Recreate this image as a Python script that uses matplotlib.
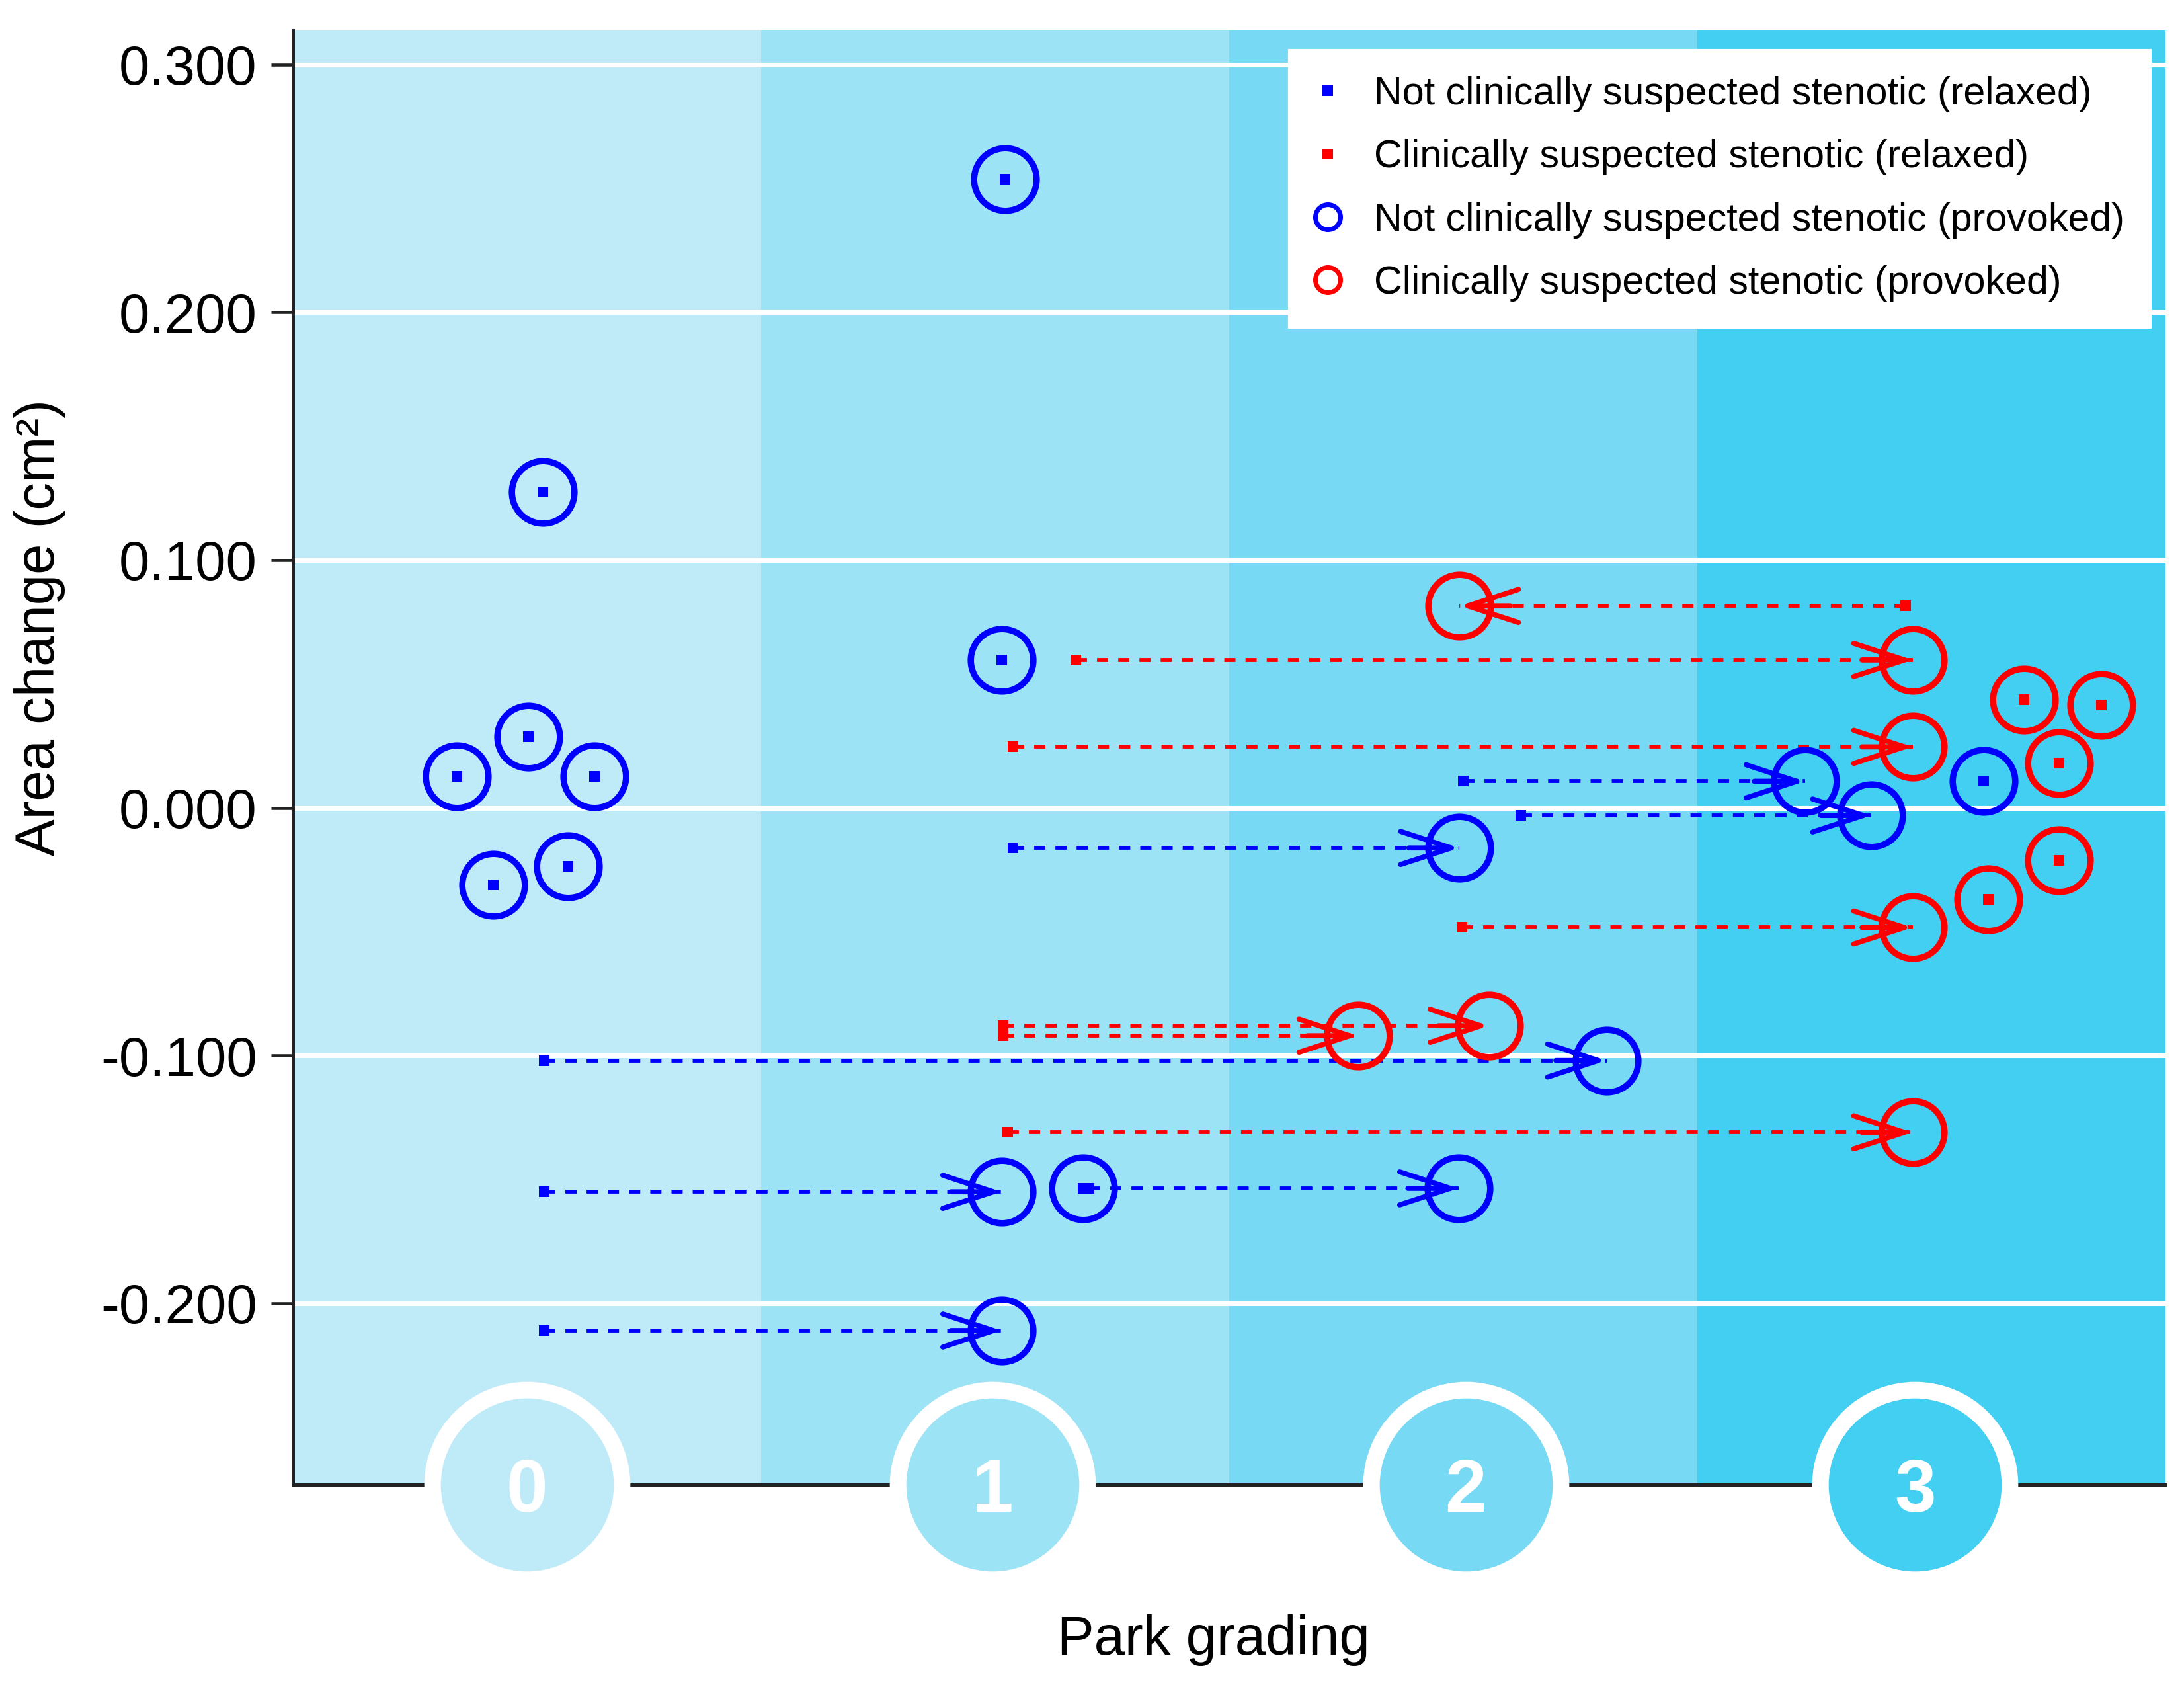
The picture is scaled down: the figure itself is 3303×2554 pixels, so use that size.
import matplotlib
matplotlib.use('Agg')
import matplotlib.pyplot as plt
from matplotlib.lines import Line2D

plt.rcParams['font.family'] = ['Liberation Sans', 'DejaVu Sans']

# ---------------- data ----------------
grades = [0, 1, 2, 3]
band_colors = ['#BFEBF9', '#9DE3F6', '#77D9F4', '#43CFF1']
grade_badge_x = [0.0, 0.995, 2.005, 2.965]
ytick_values = [0.3, 0.2, 0.1, 0.0, -0.1, -0.2]
ytick_labels = ['0.300', '0.200', '0.100', '0.000', '-0.100', '-0.200']

# Not clinically suspected stenotic (blue)
ns_relaxed_x = [0.034, 0.003, -0.150, 0.144, -0.072, 0.088, 1.021, 1.014,
                2.000, 2.123, 1.038, 0.037, 0.037, 1.188, 1.200, 0.037, 3.112]
ns_provoked_x = [0.034, 0.003, -0.150, 0.144, -0.072, 0.088, 1.021, 1.014,
                 2.730, 2.872, 1.992, 2.306, 1.014, 1.188, 1.990, 1.014, 3.112]
ns_area = [0.1275, 0.0287, 0.0127, 0.0127, -0.0311, -0.0235, 0.2537, 0.0597,
           0.0107, -0.0031, -0.0162, -0.1020, -0.1550, -0.1536, -0.1536, -0.2110, 0.0109]

# Clinically suspected stenotic (red)
s_relaxed_x = [2.945, 1.172, 1.038, 1.997, 1.017, 1.017, 1.027,
               3.198, 3.363, 3.273, 3.273, 3.122]
s_provoked_x = [1.992, 2.960, 2.960, 2.960, 2.055, 1.775, 2.960,
                3.198, 3.363, 3.273, 3.273, 3.122]
s_area = [0.0815, 0.0597, 0.0246, -0.0483, -0.0880, -0.0920, -0.1310,
          0.0436, 0.0415, 0.0179, -0.0211, -0.0370]

legend_labels = ['Not clinically suspected stenotic (relaxed)',
                 'Clinically suspected stenotic (relaxed)',
                 'Not clinically suspected stenotic (provoked)',
                 'Clinically suspected stenotic (provoked)']

BLUE = '#0000FF'
RED = '#FF0000'

# ---------------- figure ----------------
W, H = 3303, 2554
fig = plt.figure(figsize=(W / 300, H / 300), dpi=300)
ax = fig.add_axes([443 / W, 1 - 2245 / H, (3275 - 443) / W, (2245 - 46) / H])

for g, c in zip(grades, band_colors):
    ax.axvspan(g - 0.5, g + 0.5, color=c, lw=0, zorder=0)

ax.set_xlim(-0.5, 3.5)
ax.set_ylim(-0.2732, 0.3138)
ax.set_yticks(ytick_values)
ax.set_yticklabels(ytick_labels)
ax.set_xticks([])
ax.yaxis.grid(True, color='white', lw=1.7)
ax.set_axisbelow(True)

for s in ['top', 'right']:
    ax.spines[s].set_visible(False)
for s in ['left', 'bottom']:
    ax.spines[s].set_linewidth(1.2)
    ax.spines[s].set_color('#222222')
ax.tick_params(axis='y', direction='out', length=8, width=1.1, pad=5,
               labelsize=20, color='#222222')

HEAD_LEN = 18.4
HEAD_W = 6.0


def draw_series(rx, px, ys, color):
    for xr, xp, y in zip(rx, px, ys):
        if xr != xp:
            ax.plot([xr, xp], [y, y], color=color, lw=1.4, dashes=(2.9, 2.6),
                    zorder=3, solid_capstyle='butt', dash_capstyle='butt')
            sign = 1 if xp > xr else -1
            ax.annotate('', xy=(xp, y), xytext=(-sign * HEAD_LEN, 0),
                        textcoords='offset points',
                        arrowprops=dict(arrowstyle='->,head_length=%g,head_width=%g' % (HEAD_LEN, HEAD_W),
                                        mutation_scale=1, lw=1.85, color=color,
                                        shrinkA=0, shrinkB=0),
                        zorder=4)
    ax.plot(px, ys, 'o', ls='none', ms=22.7, mfc='none', mec=color, mew=2.3, zorder=5)
    ax.plot(rx, ys, 's', ls='none', ms=3.7, color=color, mew=0, zorder=6)


draw_series(ns_relaxed_x, ns_provoked_x, ns_area, BLUE)
draw_series(s_relaxed_x, s_provoked_x, s_area, RED)

# grade badges on the x axis
for g, xb, c in zip(grades, grade_badge_x, band_colors):
    ax.plot([xb], [0], 'o', transform=ax.get_xaxis_transform(), ms=68.8,
            mfc=c, mec='white', mew=6, clip_on=False, zorder=7)
    ax.text(xb, 0, str(g), transform=ax.get_xaxis_transform(), ha='center',
            va='center_baseline', color='white', fontsize=27, fontweight='bold',
            zorder=8, clip_on=False)

# legend
handles = [
    Line2D([], [], ls='none', marker='s', ms=3.7, color=BLUE, mew=0),
    Line2D([], [], ls='none', marker='s', ms=3.7, color=RED, mew=0),
    Line2D([], [], ls='none', marker='o', ms=9.1, mfc='none', mec=BLUE, mew=1.7),
    Line2D([], [], ls='none', marker='o', ms=9.1, mfc='none', mec=RED, mew=1.7),
]
leg = ax.legend(handles, legend_labels, loc='upper right',
                bbox_to_anchor=(3252 / W, 1 - 76 / H), bbox_transform=fig.transFigure,
                borderaxespad=0, fontsize=14.2, frameon=True, fancybox=False,
                framealpha=1, edgecolor='white', facecolor='white',
                borderpad=0.66, labelspacing=0.68, handlelength=0.64,
                handletextpad=0.86)
leg.set_zorder(10)

fig.text(1835 / W, 1 - 2502 / H, 'Park grading', ha='center', va='baseline', fontsize=20)
fig.text(60 / W, 1 - 949 / H, 'Area change (cm²)', rotation=90, ha='center',
         va='center', fontsize=20)

fig.savefig('out.png', dpi=300, facecolor='white')
